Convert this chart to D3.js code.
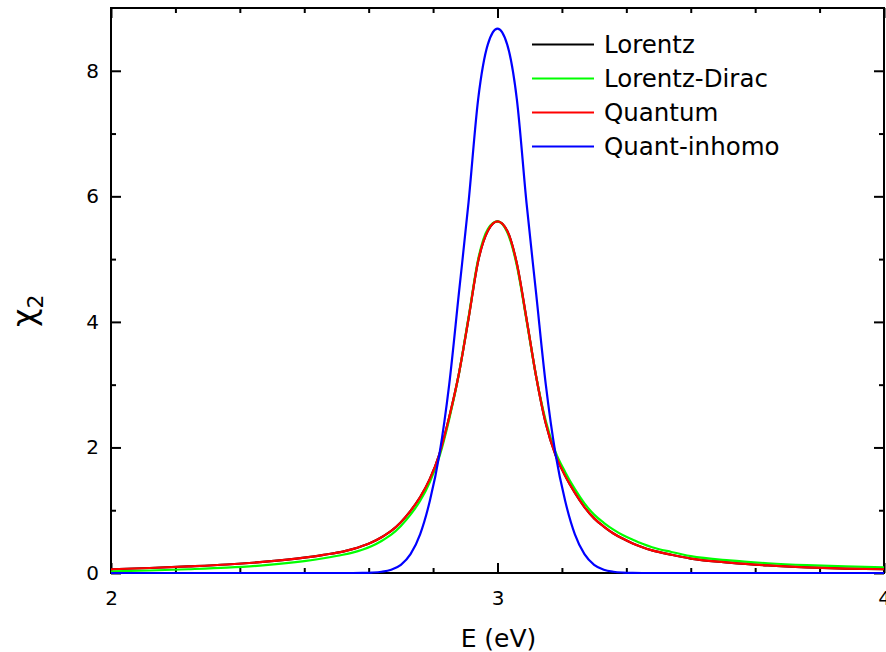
<!DOCTYPE html>
<html>
<head>
<meta charset="utf-8">
<script src="https://cdn.jsdelivr.net/npm/d3@7/dist/d3.min.js"></script>
<style>
  html, body { margin: 0; padding: 0; background: #fff; }
  svg { display: block; font-family: "DejaVu Sans", sans-serif; }
</style>
</head>
<body>
<svg id="chart" width="886" height="652"></svg>
<script>
// Photon energy grid (eV)
const energy = [2.0, 2.1, 2.2, 2.3, 2.4, 2.5, 2.55,
                2.6, 2.625, 2.65, 2.675, 2.7, 2.725, 2.75, 2.775, 2.8, 2.825, 2.85,
                2.875, 2.9, 2.925, 2.95, 2.975, 3.0, 3.025, 3.05, 3.075, 3.1, 3.125,
                3.15, 3.175, 3.2, 3.225, 3.25, 3.275, 3.3, 3.325, 3.35, 3.375, 3.4,
                3.45, 3.5, 3.6, 3.7, 3.8, 3.9, 4.0];

// Imaginary part of the dielectric function for each model
const lorentz = [0.06, 0.08, 0.105, 0.135, 0.18, 0.245, 0.29,
                 0.34, 0.38, 0.43, 0.49, 0.57, 0.67, 0.81, 0.99, 1.21, 1.50, 1.90,
                 2.48, 3.17, 4.05, 4.97, 5.45, 5.60, 5.45, 4.93, 4.05, 3.13, 2.38,
                 1.88, 1.55, 1.28, 1.05, 0.87, 0.74, 0.63, 0.545, 0.47, 0.41, 0.36,
                 0.29, 0.23, 0.165, 0.12, 0.09, 0.07, 0.06];
const lorentzDirac = [0.025, 0.04, 0.06, 0.085, 0.125, 0.19, 0.235,
                      0.29, 0.325, 0.37, 0.43, 0.51, 0.61, 0.75, 0.93, 1.15, 1.45, 1.86,
                      2.45, 3.17, 4.07, 5.0, 5.48, 5.60, 5.43, 4.90, 4.03, 3.13, 2.42,
                      1.93, 1.61, 1.34, 1.11, 0.93, 0.80, 0.69, 0.60, 0.53, 0.465, 0.41,
                      0.335, 0.27, 0.20, 0.155, 0.125, 0.105, 0.09];
const quantum = [0.06, 0.08, 0.105, 0.135, 0.18, 0.245, 0.29,
                 0.34, 0.38, 0.43, 0.49, 0.57, 0.67, 0.81, 0.99, 1.21, 1.50, 1.90,
                 2.48, 3.17, 4.05, 4.97, 5.45, 5.60, 5.45, 4.93, 4.05, 3.13, 2.38,
                 1.88, 1.55, 1.28, 1.05, 0.87, 0.74, 0.63, 0.545, 0.47, 0.41, 0.36,
                 0.29, 0.23, 0.165, 0.12, 0.09, 0.07, 0.06];
const quantInhomo = [0, 0, 0, 0, 0, 0, 0,
                     0, 0, 0.002, 0.007, 0.02, 0.052, 0.13, 0.30, 0.62, 1.15, 1.90,
                     3.0, 4.45, 5.9, 7.55, 8.42, 8.67, 8.42, 7.55, 5.9, 4.45, 3.0,
                     1.90, 1.15, 0.62, 0.30, 0.13, 0.052, 0.02, 0.007, 0.002, 0, 0,
                     0, 0, 0, 0, 0, 0, 0];

const seriesNames = ["Lorentz", "Lorentz-Dirac", "Quantum", "Quant-inhomo"];
const seriesColors = ["#000000", "#00ff00", "#ff0000", "#0000ff"];
const seriesValues = [lorentz, lorentzDirac, quantum, quantInhomo];

const xMajorTicks = [2, 3, 4];
const xMinorTicks = d3.range(1, 12).filter(k => k % 6 !== 0).map(k => 2 + k / 6);
const yMajorTicks = [0, 2, 4, 6, 8];
const yMinorTicks = [1, 3, 5, 7];

const svg = d3.select("#chart");
const plotLeft = 111, plotRight = 884, plotTop = 8, plotBottom = 573;

const x = d3.scaleLinear().domain([2, 4]).range([plotLeft, plotRight]);
const y = d3.scaleLinear().domain([0, 9]).range([plotBottom, plotTop]);

svg.append("defs").append("clipPath").attr("id", "plot-clip")
  .append("rect").attr("x", plotLeft).attr("y", plotTop)
  .attr("width", plotRight - plotLeft).attr("height", plotBottom - plotTop + 2);

// Axes with inward ticks on all four sides
function styleAxis(g) {
  g.select(".domain").remove();
  g.selectAll(".tick line").attr("stroke", "#000").attr("stroke-width", 2);
  g.selectAll(".tick text").attr("fill", "#000").style("font-size", "20px")
    .style("font-family", "'DejaVu Sans', sans-serif");
}

svg.append("g").attr("transform", `translate(0,${plotBottom})`)
  .call(d3.axisBottom(x).tickValues(xMajorTicks).tickSize(-10).tickPadding(18).tickFormat(d3.format("d")))
  .call(styleAxis);
svg.append("g").attr("transform", `translate(0,${plotBottom})`)
  .call(d3.axisBottom(x).tickValues(xMinorTicks).tickSize(-5).tickFormat(""))
  .call(styleAxis);
svg.append("g").attr("transform", `translate(0,${plotTop})`)
  .call(d3.axisTop(x).tickValues(xMajorTicks).tickSize(-10).tickFormat(""))
  .call(styleAxis);
svg.append("g").attr("transform", `translate(0,${plotTop})`)
  .call(d3.axisTop(x).tickValues(xMinorTicks).tickSize(-5).tickFormat(""))
  .call(styleAxis);

svg.append("g").attr("transform", `translate(${plotLeft},0)`)
  .call(d3.axisLeft(y).tickValues(yMajorTicks).tickSize(-10).tickPadding(12).tickFormat(d3.format("d")))
  .call(styleAxis);
svg.append("g").attr("transform", `translate(${plotLeft},0)`)
  .call(d3.axisLeft(y).tickValues(yMinorTicks).tickSize(-5).tickFormat(""))
  .call(styleAxis);
svg.append("g").attr("transform", `translate(${plotRight},0)`)
  .call(d3.axisRight(y).tickValues(yMajorTicks).tickSize(-10).tickFormat(""))
  .call(styleAxis);
svg.append("g").attr("transform", `translate(${plotRight},0)`)
  .call(d3.axisRight(y).tickValues(yMinorTicks).tickSize(-5).tickFormat(""))
  .call(styleAxis);

// Frame
svg.append("rect")
  .attr("x", plotLeft).attr("y", plotTop)
  .attr("width", plotRight - plotLeft).attr("height", plotBottom - plotTop)
  .attr("fill", "none").attr("stroke", "#000").attr("stroke-width", 2);

// Curves, drawn over the frame
const line = d3.line()
  .x((d, i) => x(energy[i]))
  .y(d => y(d))
  .curve(d3.curveMonotoneX);

const curves = svg.append("g").attr("clip-path", "url(#plot-clip)");
seriesValues.forEach((vals, i) => {
  curves.append("path")
    .datum(vals)
    .attr("d", line)
    .attr("fill", "none")
    .attr("stroke", seriesColors[i])
    .attr("stroke-width", 2.2)
    .attr("stroke-linejoin", "round");
});

// Axis titles
svg.append("text")
  .attr("x", (plotLeft + plotRight) / 2 + 1).attr("y", 647)
  .attr("text-anchor", "middle")
  .style("font-size", "25px")
  .text("E (eV)");

const yTitle = svg.append("text")
  .attr("transform", "translate(35,327) rotate(-90)")
  .attr("text-anchor", "start");
yTitle.append("tspan").style("font-size", "32px").text("χ");
yTitle.append("tspan").attr("dy", 8).style("font-size", "22px").text("2");

// Legend
const legend = svg.append("g");
seriesNames.forEach((name, i) => {
  const ly = 44.5 + i * 34;
  legend.append("line")
    .attr("x1", 532).attr("x2", 594).attr("y1", ly).attr("y2", ly)
    .attr("stroke", seriesColors[i]).attr("stroke-width", 2);
  legend.append("text")
    .attr("x", 604).attr("y", ly).attr("dy", "0.36em")
    .style("font-size", "24.5px")
    .text(name);
});
</script>
</body>
</html>
